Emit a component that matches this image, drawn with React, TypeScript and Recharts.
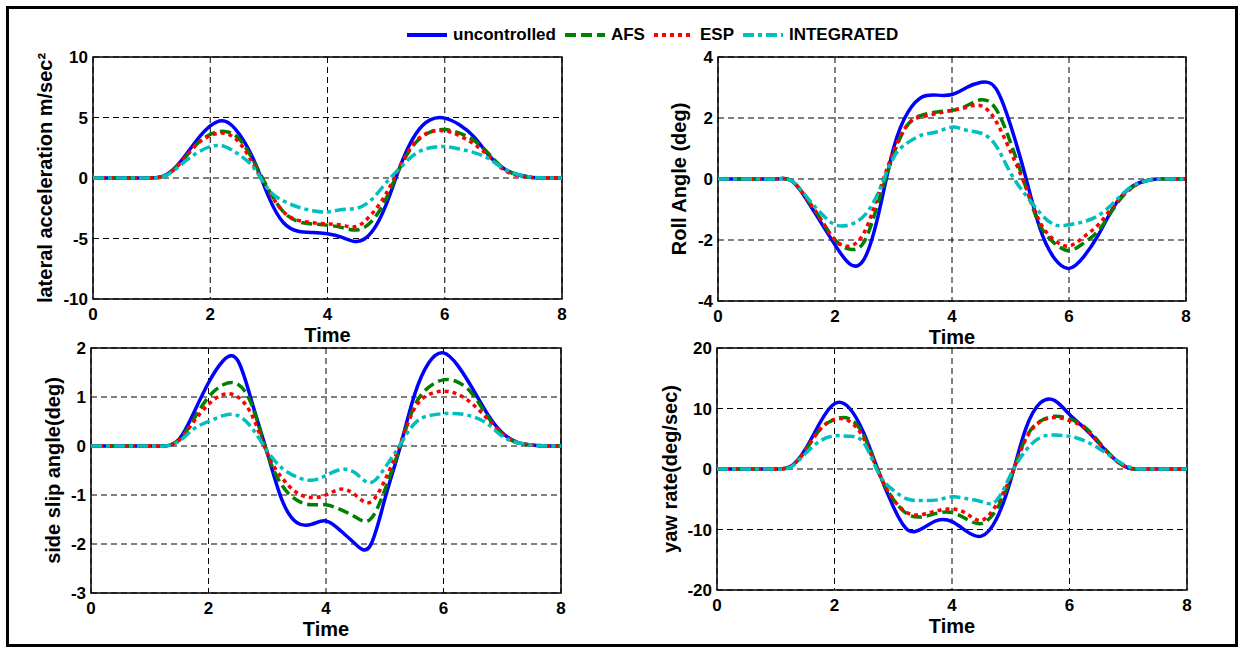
import { CartesianGrid, Line, LineChart, ReferenceArea, XAxis, YAxis } from 'recharts';

const TIME = [0, 0.25, 0.5, 0.75, 1, 1.25, 1.5, 1.75, 2, 2.25, 2.5, 2.75, 3, 3.25, 3.5, 3.75, 4, 4.25, 4.5, 4.75, 5, 5.25, 5.5, 5.75, 6, 6.25, 6.5, 6.75, 7, 7.25, 7.5, 7.75, 8];
const X_TICKS = [0, 2, 4, 6, 8];

// lateral acceleration
const LAT_UNC = [0, 0, 0, 0, 0, 0.27, 1.4, 3.0, 4.3, 4.7, 3.6, 1.4, -1.6, -3.7, -4.4, -4.5, -4.6, -4.9, -5.25, -4.5, -2.2, 1.1, 3.6, 4.8, 4.95, 4.4, 3.4, 1.9, 0.8, 0.27, 0.05, 0, 0];
const LAT_AFS = [0, 0, 0, 0, 0, 0.25, 1.3, 2.7, 3.6, 3.85, 3.2, 1.3, -1.0, -2.8, -3.6, -3.8, -3.9, -4.1, -4.3, -3.6, -1.7, 1.0, 2.9, 3.8, 4.0, 3.7, 3.1, 2.0, 0.8, 0.25, 0.05, 0, 0];
const LAT_ESP = [0, 0, 0, 0, 0, 0.25, 1.3, 2.7, 3.5, 3.7, 2.9, 1.0, -1.1, -2.8, -3.5, -3.7, -3.8, -3.9, -4.0, -3.0, -1.3, 1.1, 3.0, 3.8, 3.9, 3.5, 2.8, 1.8, 0.7, 0.2, 0.03, 0, 0];
const LAT_INT = [0, 0, 0, 0, 0, 0.22, 1.1, 2.0, 2.6, 2.6, 1.9, 0.8, -1.0, -1.9, -2.4, -2.7, -2.8, -2.6, -2.5, -1.8, -0.4, 0.9, 2.0, 2.5, 2.6, 2.4, 2.1, 1.6, 0.8, 0.3, 0.05, 0, 0];
const LAT_TICKS = [-10, -5, 0, 5, 10];

// roll angle
const ROLL_UNC = [0, 0, 0, 0, 0, -0.05, -0.63, -1.4, -2.16, -2.78, -2.62, -1.1, 1.0, 2.2, 2.7, 2.75, 2.77, 3.0, 3.17, 2.97, 1.77, 0.13, -1.6, -2.6, -2.93, -2.55, -1.84, -0.96, -0.36, -0.09, 0, 0, 0];
const ROLL_AFS = [0, 0, 0, 0, 0, -0.05, -0.6, -1.3, -2.0, -2.3, -2.05, -0.7, 0.8, 1.8, 2.1, 2.2, 2.25, 2.4, 2.6, 2.3, 1.2, -0.2, -1.5, -2.1, -2.35, -2.1, -1.7, -1.0, -0.4, -0.1, 0, 0, 0];
const ROLL_ESP = [0, 0, 0, 0, 0, -0.05, -0.6, -1.3, -2.0, -2.2, -1.75, -0.45, 0.9, 1.8, 2.05, 2.15, 2.25, 2.35, 2.4, 1.9, 0.9, -0.2, -1.4, -2.0, -2.2, -1.9, -1.5, -0.9, -0.4, -0.1, 0, 0, 0];
const ROLL_INT = [0, 0, 0, 0, 0, -0.05, -0.55, -1.1, -1.5, -1.5, -1.2, -0.4, 0.7, 1.2, 1.45, 1.55, 1.7, 1.6, 1.5, 1.1, 0.2, -0.5, -1.1, -1.5, -1.5, -1.4, -1.2, -0.8, -0.35, -0.1, 0, 0, 0];
const ROLL_TICKS = [-4, -2, 0, 2, 4];

// side slip angle
const SLIP_UNC = [0, 0, 0, 0, 0, 0, 0.14, 0.68, 1.29, 1.74, 1.74, 0.85, -0.14, -1.1, -1.56, -1.6, -1.53, -1.73, -2.0, -2.04, -1.09, -0.07, 1.02, 1.7, 1.9, 1.63, 1.16, 0.65, 0.27, 0.08, 0.02, 0, 0];
const SLIP_AFS = [0, 0, 0, 0, 0, 0, 0.12, 0.55, 1.0, 1.25, 1.26, 0.8, -0.15, -0.8, -1.1, -1.2, -1.2, -1.3, -1.45, -1.5, -0.9, -0.05, 0.8, 1.2, 1.35, 1.3, 1.05, 0.6, 0.25, 0.07, 0.02, 0, 0];
const SLIP_ESP = [0, 0, 0, 0, 0, 0, 0.12, 0.5, 0.85, 1.05, 1.0, 0.6, -0.15, -0.65, -0.95, -1.05, -1.0, -0.88, -1.0, -1.15, -0.7, 0, 0.75, 1.05, 1.12, 1.05, 0.85, 0.55, 0.25, 0.07, 0.02, 0, 0];
const SLIP_INT = [0, 0, 0, 0, 0, 0, 0.1, 0.35, 0.5, 0.62, 0.62, 0.35, -0.1, -0.45, -0.63, -0.7, -0.6, -0.48, -0.55, -0.75, -0.45, 0, 0.45, 0.62, 0.66, 0.66, 0.6, 0.45, 0.2, 0.07, 0.02, 0, 0];
const SLIP_TICKS = [-3, -2, -1, 0, 1, 2];

// yaw rate
const YAW_UNC = [0, 0, 0, 0, 0, 0.4, 3.2, 7.6, 10.8, 10.1, 5.9, -0.4, -6.2, -10.1, -9.8, -8.5, -8.7, -10.3, -11.1, -8.4, -1.8, 6.5, 10.9, 11.3, 9.0, 6.8, 4.3, 1.8, 0.2, 0, 0, 0, 0];
const YAW_AFS = [0, 0, 0, 0, 0, 0.4, 3.0, 6.5, 8.2, 8.3, 5.5, -0.5, -5.0, -7.5, -7.9, -7.3, -7.2, -8.3, -9.0, -6.8, -1.5, 5.0, 7.9, 8.7, 8.3, 7.0, 4.5, 1.8, 0.2, 0, 0, 0, 0];
const YAW_ESP = [0, 0, 0, 0, 0, 0.4, 3.0, 6.5, 8.2, 7.9, 5.0, -0.6, -5.0, -7.3, -7.5, -6.9, -6.6, -7.4, -8.5, -6.0, -1.3, 4.8, 7.8, 8.5, 8.0, 6.8, 4.3, 1.7, 0.2, 0, 0, 0, 0];
const YAW_INT = [0, 0, 0, 0, 0, 0.3, 2.5, 4.6, 5.5, 5.4, 4.3, -0.7, -3.5, -5.0, -5.2, -5.1, -4.6, -4.9, -5.4, -5.3, -0.9, 3.0, 5.2, 5.6, 5.4, 4.7, 3.4, 1.8, 0.4, 0, 0, 0, 0];
const YAW_TICKS = [-20, -10, 0, 10, 20];

const FONT = '"Liberation Sans", Arial, Helvetica, sans-serif';

const SERIES = [
    { key: 'unc', name: 'uncontrolled', color: '#0000FF', dash: undefined },
    { key: 'afs', name: 'AFS', color: '#008000', dash: '11 5' },
    { key: 'esp', name: 'ESP', color: '#FF0000', dash: '4 4' },
    { key: 'int', name: 'INTEGRATED', color: '#00BFBF', dash: '11 4 4 4' },
];

const toRows = (unc: number[], afs: number[], esp: number[], int: number[]) =>
    TIME.map((t, i) => ({ t, unc: unc[i], afs: afs[i], esp: esp[i], int: int[i] }));

const YLabel = (props: any) => {
    const { viewBox, text, dx } = props;
    const cx = viewBox.x + viewBox.width - dx;
    const cy = viewBox.y + viewBox.height / 2;
    return (
        <text
            x={cx}
            y={cy}
            transform={`rotate(-90 ${cx} ${cy})`}
            textAnchor="middle"
            dominantBaseline="central"
            fill="#000"
            style={{ fontFamily: FONT, fontWeight: 'bold', fontSize: 20 }}
        >
            {text}
        </text>
    );
};

const XLabel = (props: any) => {
    const { viewBox } = props;
    const cx = viewBox.x + viewBox.width / 2;
    return (
        <text x={cx} y={viewBox.y + 43} textAnchor="middle" fill="#000" style={{ fontFamily: FONT, fontWeight: 'bold', fontSize: 20 }}>
            Time
        </text>
    );
};

type PanelProps = {
    left: number;
    top: number;
    w: number;
    h: number;
    rows: any[];
    ticks: number[];
    ylabel: string;
    labelDx: number;
};

function Panel({ left, top, w, h, rows, ticks, ylabel, labelDx }: PanelProps) {
    const yMin = ticks[0];
    const yMax = ticks[ticks.length - 1];
    return (
        <div style={{ position: 'absolute', left: left - 100, top: top - 10 }}>
            <LineChart width={w + 110} height={h + 60} data={rows} margin={{ top: 10, right: 10, bottom: 0, left: 0 }}>
                <CartesianGrid stroke="#000" strokeWidth={1} strokeDasharray="6 4" />
                <XAxis
                    dataKey="t"
                    type="number"
                    domain={[0, 8]}
                    ticks={X_TICKS}
                    height={50}
                    axisLine={false}
                    tickLine={false}
                    tickSize={0}
                    tickMargin={9}
                    tick={{ fill: '#000', fontSize: 17, fontWeight: 'bold', fontFamily: FONT }}
                    label={<XLabel />}
                />
                <YAxis
                    type="number"
                    domain={[yMin, yMax]}
                    ticks={ticks}
                    width={100}
                    axisLine={false}
                    tickLine={false}
                    tickSize={0}
                    tickMargin={5}
                    interval={0}
                    tick={{ fill: '#000', fontSize: 17, fontWeight: 'bold', fontFamily: FONT }}
                    label={<YLabel text={ylabel} dx={labelDx} />}
                />
                {SERIES.map((s) => (
                    <Line
                        key={s.key}
                        dataKey={s.key}
                        name={s.name}
                        type="natural"
                        stroke={s.color}
                        strokeWidth={3.5}
                        strokeDasharray={s.dash}
                        dot={false}
                        activeDot={false}
                        isAnimationActive={false}
                    />
                ))}
                <ReferenceArea x1={0} x2={8} y1={yMin} y2={yMax} fill="none" stroke="#000" strokeWidth={1.5} ifOverflow="visible" />
            </LineChart>
        </div>
    );
}

function LegendRow() {
    return (
        <div
            style={{
                position: 'absolute',
                left: 407,
                top: 24,
                height: 22,
                display: 'flex',
                alignItems: 'center',
                fontFamily: FONT,
                fontWeight: 'bold',
                fontSize: 17,
                color: '#000',
                whiteSpace: 'nowrap',
            }}
        >
            {SERIES.map((s) => (
                <div key={s.key} style={{ display: 'flex', alignItems: 'center', marginRight: 9 }}>
                    <svg width={40} height={10} style={{ marginRight: 6 }}>
                        <line x1={0} y1={5} x2={40} y2={5} stroke={s.color} strokeWidth={4} strokeDasharray={s.dash} />
                    </svg>
                    <span>{s.name}</span>
                </div>
            ))}
        </div>
    );
}

export default function App() {
    return (
        <div style={{ position: 'absolute', left: 0, top: 0, width: 1239, height: 648, background: '#fff', overflow: 'hidden' }}>
            <div
                style={{
                    position: 'absolute',
                    left: 6,
                    top: 6,
                    width: 1232,
                    height: 641,
                    border: '3px solid #000',
                    boxSizing: 'border-box',
                }}
            />
            <LegendRow />
            <Panel left={93} top={57} w={469} h={242} rows={toRows(LAT_UNC, LAT_AFS, LAT_ESP, LAT_INT)} ticks={LAT_TICKS} ylabel="lateral acceleration m/sec²" labelDx={48} />
            <Panel left={718} top={57} w={468} h={244} rows={toRows(ROLL_UNC, ROLL_AFS, ROLL_ESP, ROLL_INT)} ticks={ROLL_TICKS} ylabel="Roll Angle (deg)" labelDx={39} />
            <Panel left={91} top={348} w={470} h={245} rows={toRows(SLIP_UNC, SLIP_AFS, SLIP_ESP, SLIP_INT)} ticks={SLIP_TICKS} ylabel="side slip angle(deg)" labelDx={38} />
            <Panel left={717} top={348} w={470} h={242} rows={toRows(YAW_UNC, YAW_AFS, YAW_ESP, YAW_INT)} ticks={YAW_TICKS} ylabel="yaw rate(deg/sec)" labelDx={47} />
        </div>
    );
}
